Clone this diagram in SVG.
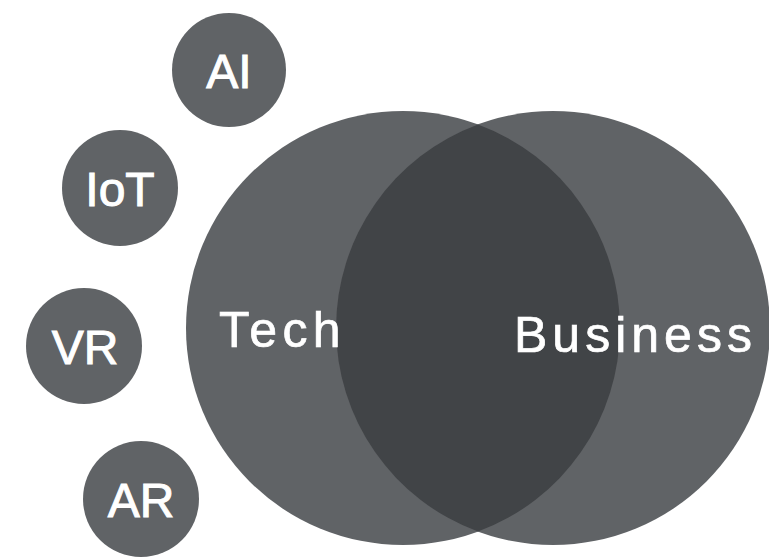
<svg xmlns="http://www.w3.org/2000/svg" width="769" height="557" viewBox="0 0 769 557">
<style>
.c{fill:#606366}
.lens{fill:#414447}
.s{font-family:"Liberation Sans",Arial,sans-serif;font-size:48px;fill:#fff;text-anchor:middle;font-weight:normal;stroke:#fff;stroke-width:1}
.b{font-family:"Liberation Sans",Arial,sans-serif;font-size:50px;fill:#fff;stroke:#fff;stroke-width:0.7}
</style>
<rect width="769" height="557" fill="#fff"/>
<g id="tech"><circle class="c" cx="403" cy="328" r="217"/></g>
<g id="business"><circle class="c" cx="553" cy="328" r="217"/></g>
<g id="overlap"><path class="lens" d="M478,124.4 A217,217 0 0 1 478,531.6 A217,217 0 0 1 478,124.4 Z"/></g>
<g id="tech-label"><text class="b" x="219" y="347" letter-spacing="5.3">Tech</text></g>
<g id="business-label"><text class="b" x="514" y="352" letter-spacing="5">Business</text></g>
<g id="ai"><circle class="c" cx="229" cy="70" r="57"/><text class="s" x="229" y="88">AI</text></g>
<g id="iot"><circle class="c" cx="120" cy="188" r="58"/><text class="s" x="120" y="206">IoT</text></g>
<g id="vr"><circle class="c" cx="84" cy="346" r="58"/><text class="s" x="85" y="364">VR</text></g>
<g id="ar"><circle class="c" cx="141" cy="499" r="58"/><text class="s" x="141" y="517">AR</text></g>
<g id="connectors"></g>
</svg>
